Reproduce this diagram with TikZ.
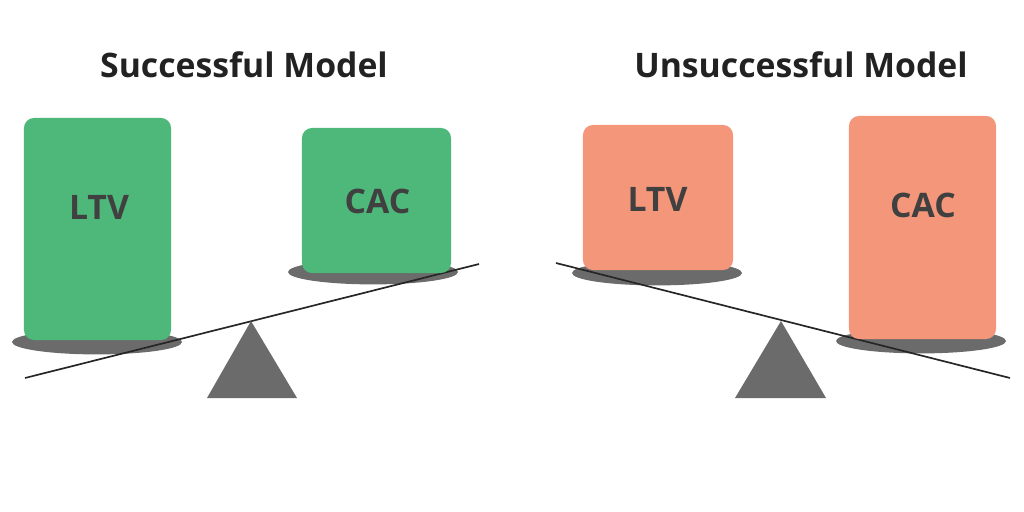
\documentclass[tikz,border=0pt]{standalone}
\usepackage{fontspec}
\setmainfont{Open Sans}
\usetikzlibrary{shapes.geometric}

\definecolor{goodgreen}{HTML}{4DB87A}
\definecolor{badsalmon}{HTML}{F4967A}
\definecolor{plategray}{HTML}{6B6B6B}
\definecolor{labelgray}{HTML}{404040}
\definecolor{titlegray}{HTML}{222222}

\tikzset{
  title/.style={anchor=base, inner sep=0pt, text=titlegray,
    font=\fontsize{24}{28}\selectfont\bfseries},
  plate/.style={ellipse, fill=plategray, inner sep=0pt,
    minimum width=4.25cm, minimum height=0.62cm},
  weight/.style={rounded corners=0.25cm, inner sep=0pt},
  weighttext/.style={anchor=base, inner sep=0pt, text=labelgray,
    font=\fontsize{24}{28}\selectfont\bfseries},
  beam/.style={line width=1.2pt, black!85},
}

\begin{document}
\begin{tikzpicture}[x=0.025cm,y=-0.025cm]
    \useasboundingbox (0,0) rectangle (1024,512);
    % Titles
    \node[title] (okTitle) at (244,77) {Successful Model};
    \node[title] (badTitle) at (801,77) {Unsuccessful Model};
    % Plates
    \node[plate] (okPlateL) at (97,342) {};
    \node[plate] (okPlateR) at (373,272) {};
    \node[plate] (badPlateL) at (657,273) {};
    \node[plate] (badPlateR) at (921,341) {};
    % Beams
    \coordinate (okL) at (25,378);
    \coordinate (okR) at (479,264);
    \coordinate (badL) at (556,263);
    \coordinate (badR) at (1010,378);
    \draw[beam] (okL) -- (okR);
    \draw[beam] (badL) -- (badR);
    % Pivots
    \fill[plategray] (207,398) -- (251,321) -- (297,398) -- cycle;
    \fill[plategray] (735,398) -- (781,321) -- (826,398) -- cycle;
    % Weights
    \node[weight, fill=goodgreen, minimum width=3.675cm, minimum height=5.55cm] (okLtv) at (97.5,229) {};
    \node[weight, fill=goodgreen, minimum width=3.725cm, minimum height=3.625cm] (okCac) at (376.5,200.5) {};
    \node[weight, fill=badsalmon, minimum width=3.75cm, minimum height=3.625cm] (badLtv) at (658,197.5) {};
    \node[weight, fill=badsalmon, minimum width=3.675cm, minimum height=5.575cm] (badCac) at (922.5,227.5) {};
    % Labels
    \node[weighttext] (okLtvText) at (99,219) {LTV};
    \node[weighttext] (okCacText) at (377.5,213) {CAC};
    \node[weighttext] (badLtvText) at (657.5,211) {LTV};
    \node[weighttext] (badCacText) at (923,217) {CAC};
\end{tikzpicture}
\end{document}
